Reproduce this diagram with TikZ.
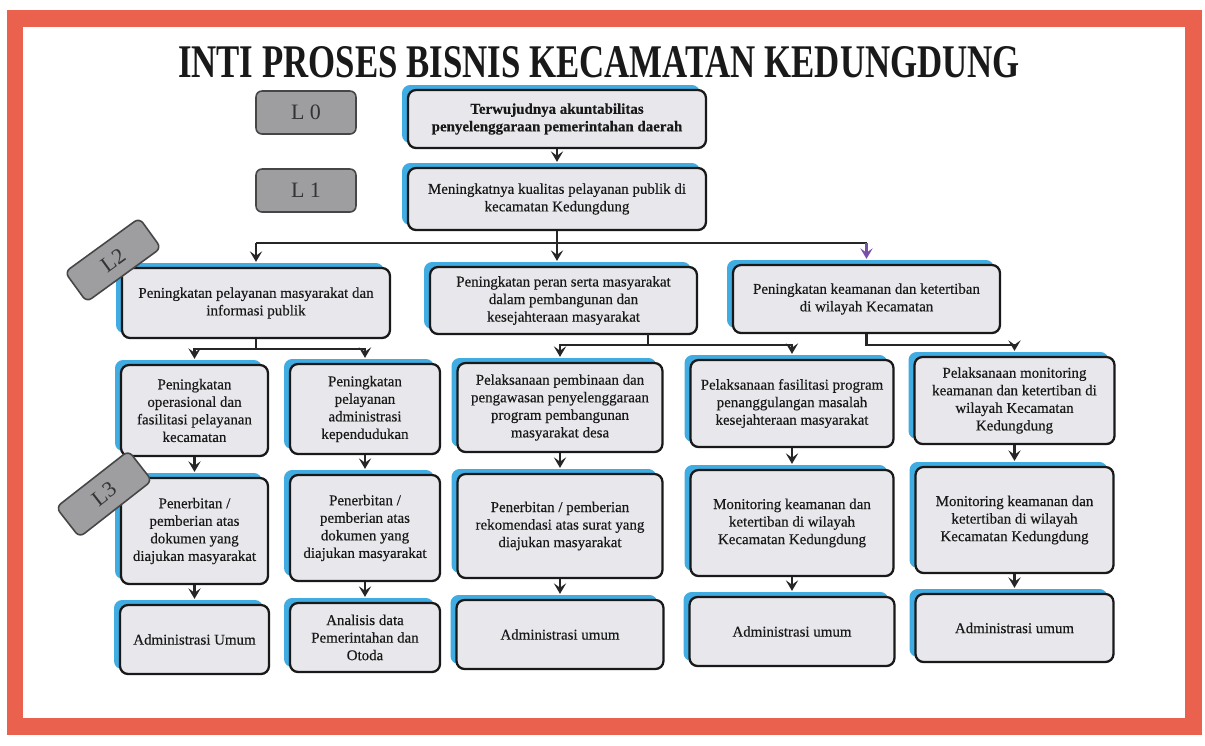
\documentclass[tikz,border=0pt]{standalone}
\usepackage{graphicx}
\usepackage{fontspec}
\setmainfont{Liberation Serif}
\newfontfamily\boxserif[FakeBold=0.35]{Liberation Serif}
\usetikzlibrary{arrows.meta,shadows}
\definecolor{frame}{RGB}{234,98,78}
\definecolor{boxfill}{RGB}{231,231,236}
\definecolor{skyb}{RGB}{64,172,226}
\definecolor{tagfill}{RGB}{158,158,160}
\definecolor{tagline}{RGB}{70,70,70}
\definecolor{arrowpurple}{RGB}{120,80,170}
\newcommand{\boxfont}{\boxserif\fontsize{8.5}{10}\selectfont}

\begin{document}
\begin{tikzpicture}[x=0.02cm,y=-0.02cm,
  box/.style={draw=black!90,line width=1.3pt,rounded corners=0.16cm,fill=boxfill,align=center,inner sep=1pt,font=\boxfont,text=black!90,
    general shadow={shadow xshift=-0.12cm,shadow yshift=0.1cm,fill=skyb}},
  tag/.style={draw=tagline,line width=0.9pt,rounded corners=0.12cm,fill=tagfill,text=black!80,font=\fontsize{12.5}{12.5}\selectfont},
  link/.style={draw=black!85,line width=1.2pt},
  arr/.style={link,-{Stealth[length=6pt,width=7pt,inset=2.5pt]},shorten >=0.1cm}]
				\useasboundingbox (0,0) rectangle (1205,745);
				\fill[white] (0,0) rectangle (1205,745);
				\draw[frame,line width=0.34cm] (15,18.5) rectangle (1193.5,726);
				\node[inner sep=0pt,text=black!90] (title) at (599,62) {\resizebox{16.84cm}{0.62cm}{\bfseries INTI PROSES BISNIS KECAMATAN KEDUNGDUNG}};
				% level 0 and 1
				\node[box,font=\boxfont\bfseries,minimum width=5.96cm,minimum height=1.16cm] (a) at (557,119) {Terwujudnya akuntabilitas\\penyelenggaraan pemerintahan daerah};
				\node[box,minimum width=5.96cm,minimum height=1.24cm] (b) at (557,199) {Meningkatnya kualitas pelayanan publik di\\kecamatan Kedungdung};
				% level 2
				\node[box,minimum width=5.36cm,minimum height=1.4cm] (c1) at (256,303) {Peningkatan pelayanan masyarakat dan\\informasi publik};
				\node[box,minimum width=5.34cm,minimum height=1.34cm] (c2) at (563.5,300.5) {Peningkatan peran serta masyarakat\\dalam pembangunan dan\\kesejahteraan masyarakat};
				\node[box,minimum width=5.34cm,minimum height=1.36cm] (c3) at (866.5,299) {Peningkatan keamanan dan ketertiban\\di wilayah Kecamatan};
				% level 3
				\node[box,minimum width=2.94cm,minimum height=1.82cm] (d1) at (194.5,410.5) {Peningkatan\\operasional dan\\fasilitasi pelayanan\\kecamatan};
				\node[box,minimum width=3cm,minimum height=1.8cm] (d2) at (365,409) {Peningkatan\\pelayanan\\administrasi\\kependudukan};
				\node[box,minimum width=4.1cm,minimum height=1.78cm] (d3) at (560,407.5) {Pelaksanaan pembinaan dan\\pengawasan penyelenggaraan\\program pembangunan\\masyarakat desa};
				\node[box,minimum width=4.06cm,minimum height=1.74cm] (e1) at (792,403.5) {Pelaksanaan fasilitasi program\\penanggulangan masalah\\kesejahteraan masyarakat};
				\node[box,minimum width=4cm,minimum height=1.74cm] (e2) at (1014.5,400.5) {Pelaksanaan monitoring\\keamanan dan ketertiban di\\wilayah Kecamatan\\Kedungdung};
				\node[box,minimum width=2.94cm,minimum height=2.12cm] (f1) at (194.5,531) {Penerbitan /\\pemberian atas\\dokumen yang\\diajukan masyarakat};
				\node[box,minimum width=3cm,minimum height=2.12cm] (f2) at (365,528) {Penerbitan /\\pemberian atas\\dokumen yang\\diajukan masyarakat};
				\node[box,minimum width=4.1cm,minimum height=2.08cm] (f3) at (560,526) {Penerbitan / pemberian\\rekomendasi atas surat yang\\diajukan masyarakat};
				\node[box,minimum width=4.06cm,minimum height=2.12cm] (f4) at (792,523) {Monitoring keamanan dan\\ketertiban di wilayah\\Kecamatan Kedungdung};
				\node[box,minimum width=3.96cm,minimum height=2.12cm] (f5) at (1014.5,520) {Monitoring keamanan dan\\ketertiban di wilayah\\Kecamatan Kedungdung};
				\node[box,minimum width=2.98cm,minimum height=1.38cm] (g1) at (194.5,639.5) {Administrasi Umum};
				\node[box,minimum width=3cm,minimum height=1.38cm] (g2) at (365,637.5) {Analisis data\\Pemerintahan dan\\Otoda};
				\node[box,minimum width=4.14cm,minimum height=1.38cm] (g3) at (560,634.5) {Administrasi umum};
				\node[box,minimum width=4.1cm,minimum height=1.38cm] (g4) at (792,631.5) {Administrasi umum};
				\node[box,minimum width=3.96cm,minimum height=1.36cm] (g5) at (1014.5,628) {Administrasi umum};
				% level tags
				\node[tag,minimum width=2cm,minimum height=0.86cm] (l0) at (306,112.5) {L 0};
				\node[tag,minimum width=2cm,minimum height=0.86cm] (l1) at (306,190.5) {L 1};
				\node[tag,minimum width=1.84cm,minimum height=0.74cm,rotate=36] (l2) at (113,260) {L2};
				\node[tag,minimum width=1.84cm,minimum height=0.76cm,rotate=38] (l3) at (104,494) {L3};
				% connectors
				\draw[arr] (a) -- (b);
				\coordinate (bar1) at (557,243);
				\draw[link] (c1.north |- bar1) -- (c3.north |- bar1);
				\draw[arr] (b.south) -- (b.south |- c2.north);
				\draw[arr] (c1.north |- bar1) -- (c1.north);
				\draw[arr,arrowpurple] (c3.north |- bar1) -- (c3.north);
				\draw[arr] (c1.south) -- ++(0,10) -| (d1.north);
				\draw[arr] (c1.south) -- ++(0,10) -| (d2.north);
				\coordinate (c2out) at (648,334);
				\draw[arr] (c2out) -- ++(0,11) -| (d3.north);
				\draw[arr] (c2out) -- ++(0,11) -| (e1.north);
				\draw[arr] (c3.south) -- ++(0,11) -| (e2.north);
				\draw[arr] (d1) -- (f1);
				\draw[arr] (d2) -- (f2);
				\draw[arr] (d3) -- (f3);
				\draw[arr] (e1) -- (f4);
				\draw[arr] (e2) -- (f5);
				\draw[arr] (f1) -- (g1);
				\draw[arr] (f2) -- (g2);
				\draw[arr] (f3) -- (g3);
				\draw[arr] (f4) -- (g4);
				\draw[arr] (f5) -- (g5);
			\end{tikzpicture}
\end{document}
